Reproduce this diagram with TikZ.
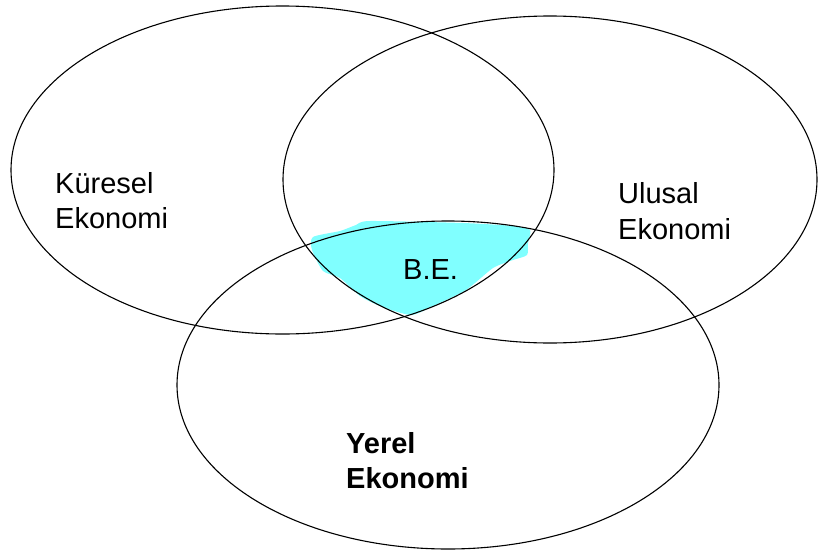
\documentclass[tikz,border=0pt]{standalone}
\usepackage{fontspec}
\setmainfont{Liberation Sans}
\usetikzlibrary{shapes.geometric}
\definecolor{becyan}{HTML}{80FFFF}
\begin{document}
\begin{tikzpicture}[x=1pt,y=-1pt,
  ring/.style={draw=black,line width=1.1pt,ellipse,inner sep=0pt},
  lbl/.style={inner sep=0pt,anchor=base west,font=\fontsize{29}{33}\selectfont},
  blbl/.style={lbl,font=\fontsize{29}{33}\selectfont\bfseries}]
\useasboundingbox (0,0) rectangle (819,554);
% shaded common region
\fill[becyan] plot[smooth cycle,tension=0.4] coordinates {
  (313,237) (312,250) (323,271) (340,278) (360,296) (380,306) (411,315)
  (433,306) (466,290) (493,268) (513,260) (527,255) (528,243) (530,230)
  (513,226) (463,223) (370,221) (356,225) (340,231)};
% circles
\node[ring,minimum width=543pt,minimum height=328pt] (kure) at (282.5,170) {};
\node[ring,minimum width=534pt,minimum height=327pt] (ulus) at (550,179.5) {};
\node[ring,minimum width=542pt,minimum height=328pt] (yere) at (448,385) {};
% labels
\node[lbl] (k1) at (55,193) {Küresel};
\node[lbl] (k2) at (55,228) {Ekonomi};
\node[lbl] (u1) at (618,203) {Ulusal};
\node[lbl] (u2) at (618,239) {Ekonomi};
\node[lbl] (be) at (403,279) {B.E.};
\node[blbl] (y1) at (346,453) {Yerel};
\node[blbl] (y2) at (346,488) {Ekonomi};
\end{tikzpicture}
\end{document}
